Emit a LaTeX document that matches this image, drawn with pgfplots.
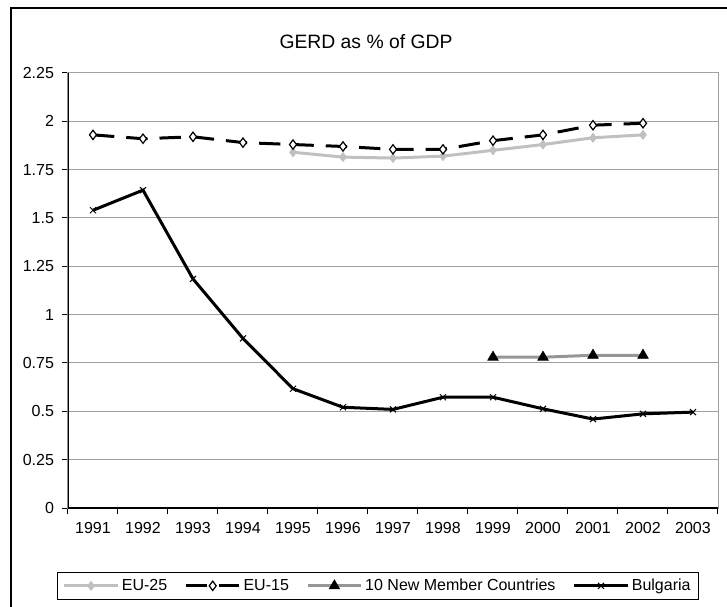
\documentclass[border=0pt]{standalone}
\usepackage{pgfplots}
\pgfplotsset{compat=1.18}
\usepackage{fontspec}
\setmainfont{Liberation Sans}
\definecolor{lgray}{HTML}{C0C0C0}
\definecolor{mgray}{HTML}{969696}
\definecolor{gridgray}{HTML}{A0A0A0}
\begin{document}
\begin{tikzpicture}[x=0.75pt,y=0.75pt]
\path[use as bounding box] (0,0) rectangle (727,606);
\draw[line width=1.5pt] (11,-5) -- (11,598) -- (740,598);
\node[font=\fontsize{14.5}{17}\selectfont] at (366,564) {GERD as \% of GDP};
\begin{axis}[
  at={(51pt,73.5pt)}, anchor=south west, scale only axis,
  width=487.5pt, height=326.25pt,
  xmin=1990.5, xmax=2003.5, ymin=0, ymax=2.25,
  xtick={1990.5,1991.5,...,2003.5},
  x tick label as interval,
  xticklabels={1991,1992,1993,1994,1995,1996,1997,1998,1999,2000,2001,2002,2003},
  ytick={0,0.25,0.5,0.75,1,1.25,1.5,1.75,2,2.25},
  yticklabels={0,0.25,0.5,0.75,1,1.25,1.5,1.75,2,2.25},
  /pgf/number format/assume math mode=true,
  ymajorgrids, grid style={draw=gridgray, line width=0.75pt},
  axis line style={draw=gridgray, line width=0.75pt},
  tick style={black, line width=0.75pt},
  tick align=outside, major tick length=4.5pt,
  xtick pos=bottom, ytick pos=left,
  ticklabel style={font=\fontsize{12}{14}\selectfont},
  xticklabel style={yshift=-3pt},
  yticklabel style={xshift=-2.5pt},
  legend style={at={(0.477,-0.179)}, anchor=center, legend columns=4,
    draw=black, line width=0.75pt, font=\fontsize{12}{14}\selectfont,
    inner xsep=4pt, inner ysep=3pt,
    /tikz/every even column/.append style={column sep=11pt}},
  legend image code/.code={\draw[mark repeat=2,mark phase=2,#1] plot coordinates {(0pt,0pt) (20pt,0pt) (40pt,0pt)};},
]
\addplot[color=lgray, line width=2.25pt, mark=diamond*, mark size=3.4pt, mark options={solid, fill=lgray, draw=lgray, line width=0.5pt}]
 coordinates {(1995,1.84) (1996,1.815) (1997,1.81) (1998,1.82) (1999,1.85) (2000,1.88) (2001,1.915) (2002,1.93)};
\addlegendentry{EU-25}
\addplot[color=black, line width=2.25pt, dash pattern=on 16pt off 9pt, mark=diamond*, mark size=3.5pt, mark options={solid, fill=white, draw=black, line width=0.9pt}]
 coordinates {(1991,1.93) (1992,1.91) (1993,1.92) (1994,1.89) (1995,1.88) (1996,1.87) (1997,1.855) (1998,1.855) (1999,1.90) (2000,1.93) (2001,1.98) (2002,1.99)};
\addlegendentry{EU-15}
\addplot[color=mgray, line width=2.25pt, mark=triangle*, mark size=4.5pt, mark options={solid, fill=black, draw=black, line width=0.5pt}]
 coordinates {(1999,0.78) (2000,0.78) (2001,0.79) (2002,0.79)};
\addlegendentry{10 New Member Countries}
\addplot[color=black, line width=2.25pt, mark=x, mark size=3.2pt, mark options={solid, line width=0.75pt}]
 coordinates {(1991,1.54) (1992,1.644) (1993,1.185) (1994,0.877) (1995,0.617) (1996,0.521) (1997,0.51) (1998,0.573) (1999,0.573) (2000,0.513) (2001,0.46) (2002,0.487) (2003,0.496)};
\addlegendentry{Bulgaria}
\draw[black, line width=1pt] (rel axis cs:0,1) -- (rel axis cs:0,0) -- (rel axis cs:1,0);
\end{axis}
\end{tikzpicture}
\end{document}
